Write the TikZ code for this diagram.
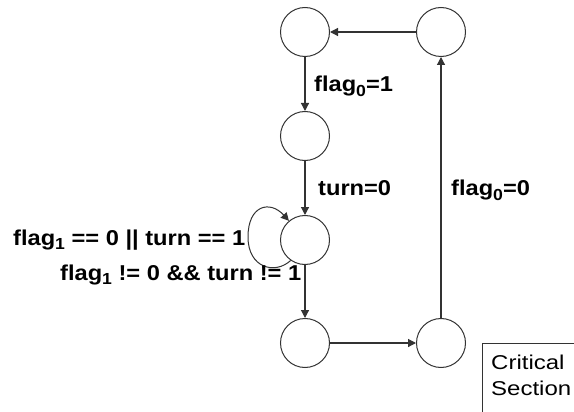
\documentclass[tikz,border=0pt]{standalone}
\usepackage{fontspec}
\setmainfont[FakeStretch=1.1]{Liberation Sans}
\newfontfamily\csfont[FakeStretch=1.2]{Liberation Sans}
\usetikzlibrary{arrows.meta}
\newcommand\sbs[1]{\raisebox{-4.3pt}{\fontsize{16}{16}\selectfont #1}}
\tikzset{
  st/.style={circle, draw=black!80, line width=1pt, minimum size=49pt, inner sep=0pt},
  arr/.style={draw=black!80, line width=1.2pt, -{Triangle[length=8pt,width=8pt]}},
  lbl/.style={font=\fontsize{21.5}{26}\selectfont\bfseries, inner sep=0pt, anchor=base west},
  txt/.style={font=\csfont\fontsize{20}{26}\selectfont, inner sep=0pt, anchor=base west}
}
\begin{document}
\begin{tikzpicture}[x=1pt,y=-1pt]
\useasboundingbox (0,0) rectangle (574,412);
\clip (0,0) rectangle (574,412);
\node[st] (a) at (305,32) {};
\node[st] (f) at (441,32) {};
\node[st] (b) at (305,136) {};
\node[st] (c) at (305,240) {};
\node[st] (d) at (305,343) {};
\node[st] (e) at (441,343) {};
\draw[arr] (f) -- (a);
\draw[arr] (a) -- (b);
\draw[arr] (b) -- (c);
\draw[arr] (c) -- (d);
\draw[arr] (d) -- (e);
\draw[arr] (e) -- (f);
\draw[arr, line width=1pt] (c.235) .. controls (275,275) and (248,268) .. (248,237)
  .. controls (248,205) and (270,200) .. (c.130);
\node[lbl] (l1) at (314,92) {flag\sbs{0}=1};
\node[lbl] (l2) at (318,196) {turn=0};
\node[lbl] (l3) at (451,196) {flag\sbs{0}=0};
\node[lbl] (l4) at (13,245) {flag\sbs{1} == 0 || turn == 1};
\node[lbl] (l5) at (60,280) {flag\sbs{1} != 0 \&\& turn != 1};
\draw[draw=black!80, line width=1pt] (482,343) rectangle (600,440);
\node[txt] (cs1) at (491,369) {Critical};
\node[txt] (cs2) at (491,395) {Section};
\end{tikzpicture}
\end{document}
